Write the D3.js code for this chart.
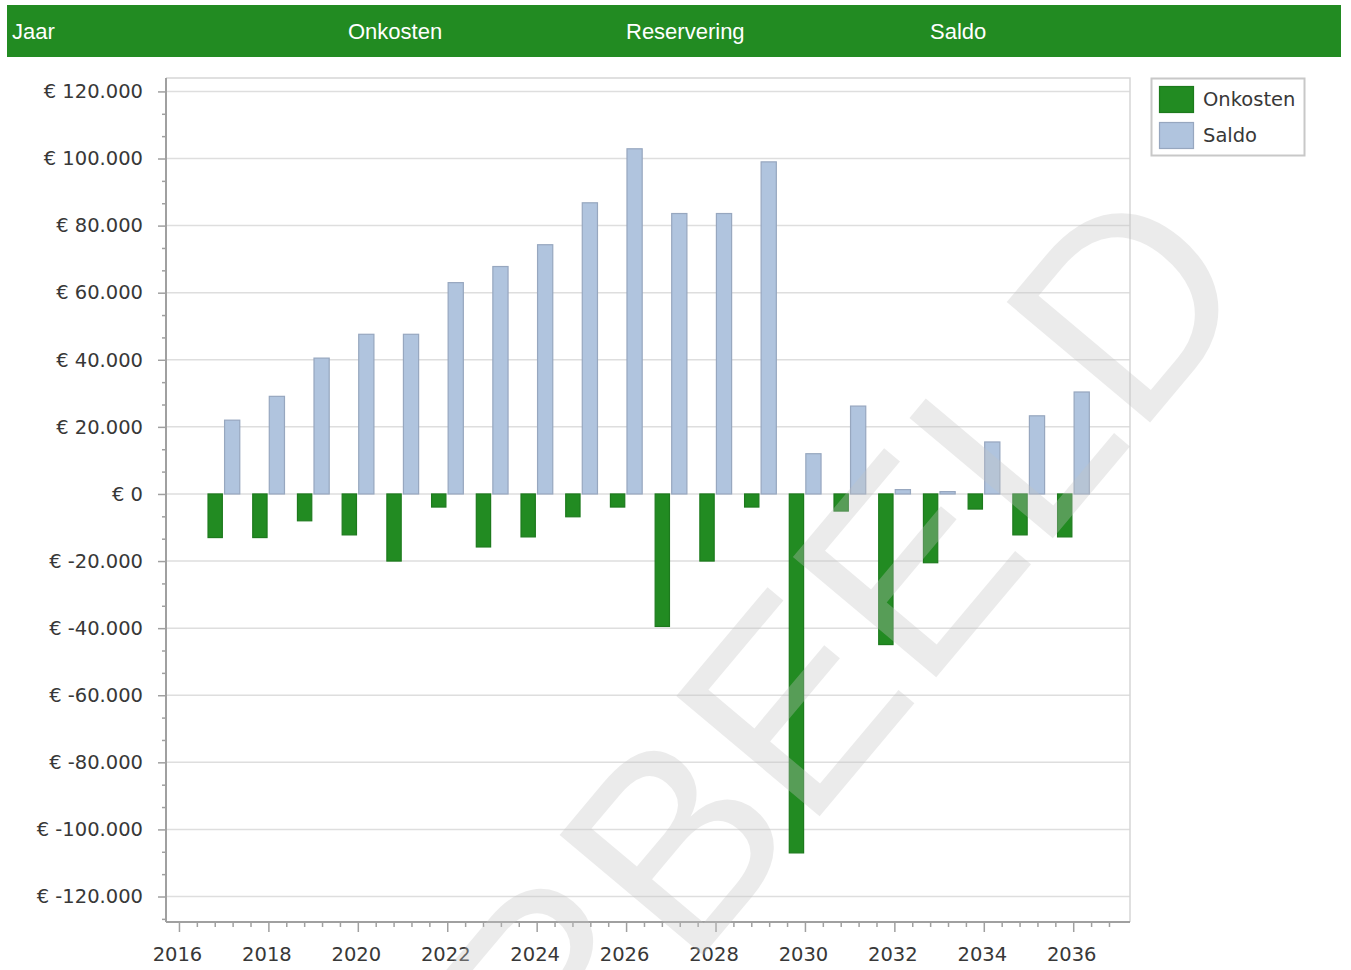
<!DOCTYPE html>
<html>
<head>
<meta charset="utf-8">
<script src="https://cdn.jsdelivr.net/npm/d3@7"></script>
<style>
  body { margin: 0; background: #fff; }
  svg { display: block; }
</style>
</head>
<body>
<div id="viz"></div>
<script>
// data
const years = [2017, 2018, 2019, 2020, 2021, 2022, 2023, 2024, 2025, 2026,
               2027, 2028, 2029, 2030, 2031, 2032, 2033, 2034, 2035, 2036];
const onkosten = [-13000, -13000, -8000, -12200, -20000, -3900, -15800, -12800, -6800, -3900,
                  -39500, -20000, -3900, -107000, -5100, -44900, -20500, -4500, -12200, -12800];
const saldo = [22000, 29100, 40500, 47600, 47600, 63000, 67800, 74300, 86800, 102900,
               83600, 83600, 99000, 12000, 26200, 1300, 700, 15500, 23300, 30400];
const yTicks = [-120000, -100000, -80000, -60000, -40000, -20000, 0,
                20000, 40000, 60000, 80000, 100000, 120000];
const xTicks = [2016, 2018, 2020, 2022, 2024, 2026, 2028, 2030, 2032, 2034, 2036];
const headerLabels = ['Jaar', 'Onkosten', 'Reservering', 'Saldo'];
const legendLabels = ['Onkosten', 'Saldo'];

const width = 1351;
const height = 970;
const green = '#228b22';
const blue = '#b0c4de';

const svg = d3.select('#viz')
  .append('svg')
  .attr('width', width)
  .attr('height', height);

// HEADER
svg.append('rect')
  .attr('x', 7).attr('y', 5)
  .attr('width', 1334).attr('height', 52)
  .attr('fill', green);

const headerX = [12, 348, 626, 930];
svg.selectAll('.hdr')
  .data(headerLabels)
  .enter().append('text')
  .attr('x', (d, i) => headerX[i])
  .attr('y', 39)
  .attr('fill', '#fff')
  .attr('font-family', 'Liberation Sans, Arial, sans-serif')
  .attr('font-size', '22px')
  .text(d => d);

// PLOT
const pLeft = 166, pRight = 1130, pTop = 78, pBottom = 922;

const x = d3.scaleLinear().domain([2015.71, 2037.27]).range([pLeft, pRight]);
const y = d3.scaleLinear().domain([-127600, 124000]).range([pBottom, pTop]);

const loc = d3.formatLocale({ decimal: ',', thousands: '.', grouping: [3], currency: ['€ ', ''], minus: '-' });
const fmt = v => '€ ' + loc.format(',')(v);

// grid
svg.append('g')
  .selectAll('line')
  .data(yTicks)
  .enter().append('line')
  .attr('x1', pLeft).attr('x2', pRight)
  .attr('y1', d => y(d)).attr('y2', d => y(d))
  .attr('stroke', '#dedede')
  .attr('stroke-width', 1.5);

// top + right border
svg.append('path')
  .attr('d', `M${pLeft},${pTop}H${pRight}V${pBottom}`)
  .attr('fill', 'none')
  .attr('stroke', '#d6d6d6')
  .attr('stroke-width', 1.5);

// bars
const band = { onk: [-0.35, -0.03], sal: [0.02, 0.36] };

svg.append('g')
  .selectAll('rect')
  .data(years)
  .enter().append('rect')
  .attr('x', d => x(d + band.onk[0]))
  .attr('width', d => x(d + band.onk[1]) - x(d + band.onk[0]))
  .attr('y', (d, i) => y(Math.max(0, onkosten[i])))
  .attr('height', (d, i) => Math.abs(y(onkosten[i]) - y(0)))
  .attr('fill', green)
  .attr('stroke', '#1d7a1d')
  .attr('stroke-width', 1.2);

svg.append('g')
  .selectAll('rect')
  .data(years)
  .enter().append('rect')
  .attr('x', d => x(d + band.sal[0]))
  .attr('width', d => x(d + band.sal[1]) - x(d + band.sal[0]))
  .attr('y', (d, i) => y(Math.max(0, saldo[i])))
  .attr('height', (d, i) => Math.abs(y(saldo[i]) - y(0)))
  .attr('fill', blue)
  .attr('stroke', '#97a7bf')
  .attr('stroke-width', 1.2);

// AXES
const axisColor = '#a0a0a0';
const labelFont = 'DejaVu Sans, Verdana, sans-serif';

const yMinor = d3.range(-380000, 370001, 20000).map(v => v / 3)
  .filter(v => v > -127400 && v < 123800 && yTicks.indexOf(v) < 0);
const xMinor = d3.range(0, 53).map(i => 2016 + i * 0.4)
  .filter(v => v < 2037.27 && Math.abs(v - Math.round(v / 2) * 2) > 0.01);

const gy = svg.append('g').attr('transform', `translate(${pLeft},0)`);
gy.call(d3.axisLeft(y).tickValues(yTicks).tickSize(8).tickPadding(15).tickFormat(fmt));
gy.append('g').call(d3.axisLeft(y).tickValues(yMinor).tickSize(4).tickFormat(''));

const gx = svg.append('g').attr('transform', `translate(0,${pBottom})`);
gx.call(d3.axisBottom(x).tickValues(xTicks).tickSize(10).tickPadding(15).tickFormat(d3.format('d')));
gx.append('g').call(d3.axisBottom(x).tickValues(xMinor).tickSize(5).tickFormat(''));

gy.selectAll('g g .domain').remove();
gx.selectAll('g g .domain').remove();
svg.selectAll('.domain').attr('stroke', axisColor).attr('stroke-width', 2);
gy.select('.domain').attr('d', `M0,${pTop}V${pBottom}`);
gx.select('.domain').attr('d', `M${pLeft},0H${pRight}`);
svg.selectAll('.tick line').attr('stroke', axisColor).attr('stroke-width', 1.5);
svg.selectAll('.tick text')
  .attr('fill', '#383838')
  .attr('font-family', labelFont)
  .attr('font-size', '19.5px');
gx.selectAll('.tick text').attr('dx', '-2');

// LEGEND
const lg = svg.append('g');
lg.append('rect')
  .attr('x', 1151.5).attr('y', 78.5)
  .attr('width', 153).attr('height', 77)
  .attr('fill', '#fff')
  .attr('stroke', '#c8c8c8')
  .attr('stroke-width', 2);

const legendFill = [green, blue];
const legendStroke = ['#1d7a1d', '#97a7bf'];
legendLabels.forEach((name, i) => {
  lg.append('rect')
    .attr('x', 1159.5).attr('y', 86.5 + i * 36)
    .attr('width', 34).attr('height', 26)
    .attr('fill', legendFill[i])
    .attr('stroke', legendStroke[i])
    .attr('stroke-width', 1.2);
  lg.append('text')
    .attr('x', 1203).attr('y', 106 + i * 36)
    .attr('fill', '#383838')
    .attr('font-family', labelFont)
    .attr('font-size', '19.5px')
    .text(name);
});

// WATERMARK
svg.append('text')
  .attr('transform', 'translate(1262,289) rotate(-50)')
  .attr('text-anchor', 'end')
  .attr('font-family', 'Liberation Sans, Arial, sans-serif')
  .attr('font-size', '272px')
  .attr('fill', '#c4c4c4')
  .attr('opacity', 0.33)
  .text('VOORBEELD');
</script>
</body>
</html>
